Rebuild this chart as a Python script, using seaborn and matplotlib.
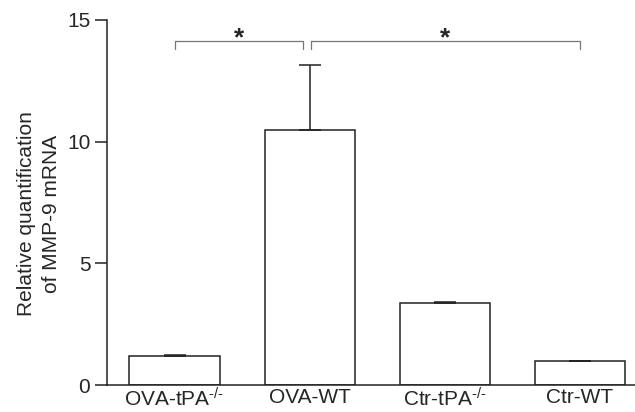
import numpy as np
import pandas as pd
import seaborn as sns
import matplotlib
matplotlib.use('Agg')
import matplotlib.pyplot as plt

# relative MMP-9 mRNA per group (mean and upper SEM)
groups = ['OVA-tPA$^{\u2010/\u2010}$', 'OVA-WT', 'Ctr-tPA$^{\u2010/\u2010}$', 'Ctr-WT']
means = [1.19, 10.47, 3.36, 1.0]
sems = [0.03, 2.7, 0.04, 0.0]

# significance brackets: (left bar, right bar, label)
brackets = [(0.0, 0.95, '*'), (1.01, 3.0, '*')]
bracket_y = 14.15
bracket_drop = 0.35

data = pd.DataFrame({'group': groups, 'value': means})

sns.set_style('ticks')
plt.rcParams['font.family'] = ['Liberation Sans', 'DejaVu Sans']
plt.rcParams['mathtext.fontset'] = 'custom'
plt.rcParams['mathtext.rm'] = 'Liberation Sans'
plt.rcParams['mathtext.it'] = 'Liberation Sans'
plt.rcParams['mathtext.default'] = 'rm'

fig = plt.figure(figsize=(6.35, 4.12), dpi=100)
ax = fig.add_axes([0.1685, 0.0655, 0.8315, 0.886])

sns.barplot(data=data, x='group', y='value', ax=ax, color='white',
            edgecolor='#222222', linewidth=1.1, width=0.667, errorbar=None)

x = np.arange(len(groups))
ax.errorbar(x, means, yerr=[np.zeros(len(sems)), sems], fmt='none',
            ecolor='#222222', elinewidth=1.1, capsize=8, capthick=1.1)

for x0, x1, lab in brackets:
    ax.plot([x0, x0, x1, x1],
            [bracket_y - bracket_drop, bracket_y, bracket_y, bracket_y - bracket_drop],
            color='#777777', lw=0.9, clip_on=False)
    ax.text((x0 + x1) / 2, 13.95, lab, ha='center', va='baseline',
            fontsize=19, fontweight='bold')

ax.set_xlim(-0.5, 3.41)
ax.set_ylim(0, 15)
ax.set_yticks([0, 5, 10, 15])
ax.tick_params(axis='y', labelsize=15, length=9, width=1.1, color='#222222', pad=3)
ax.tick_params(axis='x', labelsize=15, length=0, pad=2)
ax.set_xlabel('')
ax.set_ylabel('Relative quantification\nof MMP-9 mRNA', fontsize=15, labelpad=4,
              linespacing=1.45)
ax.yaxis.label.set_y(0.47)
sns.despine(ax=ax)
for s in ['left', 'bottom']:
    ax.spines[s].set_linewidth(1.1)
    ax.spines[s].set_color('#222222')

fig.savefig('out.png', dpi=100)
